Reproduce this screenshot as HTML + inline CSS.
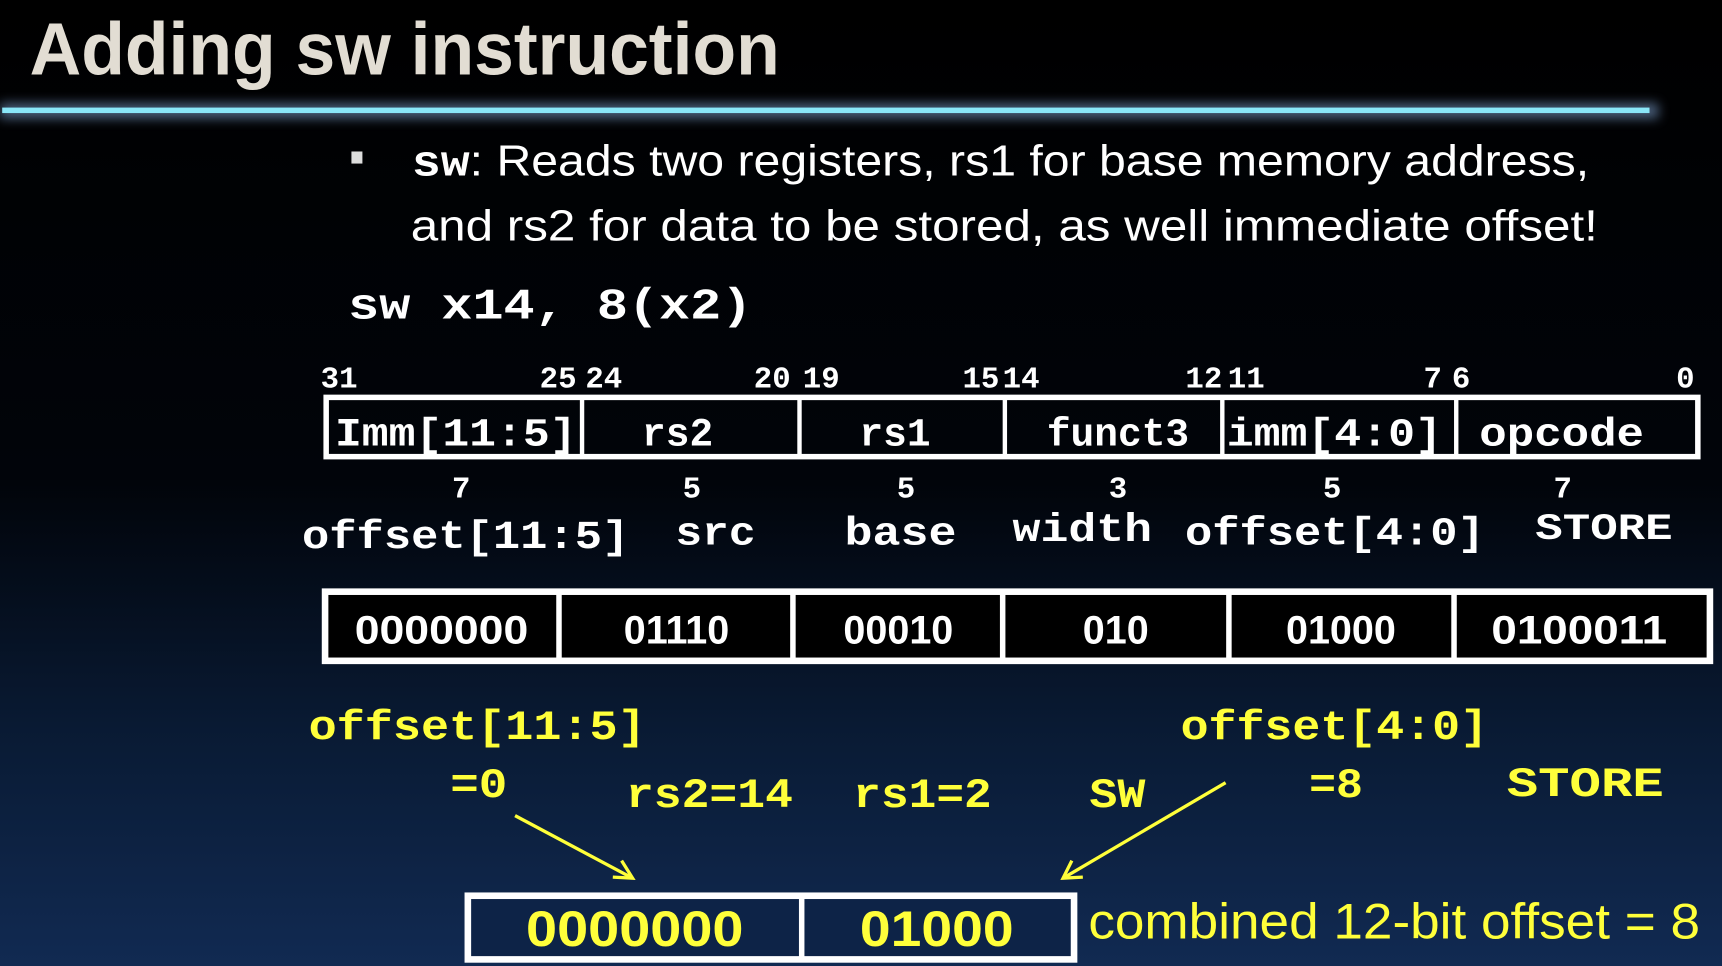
<!DOCTYPE html>
<html><head><meta charset="utf-8"><style>
html,body{margin:0;padding:0;background:#000;}
svg{display:block;}
.m{font-family:"Liberation Mono",monospace;font-weight:bold;}
.s{font-family:"Liberation Sans",sans-serif;}
</style></head><body>
<svg width="1722" height="966" viewBox="0 0 1568 880" preserveAspectRatio="none" xmlns="http://www.w3.org/2000/svg">
<defs>
<linearGradient id="bg" x1="0" y1="0" x2="0" y2="1">
<stop offset="0" stop-color="#000"/><stop offset="0.5" stop-color="#01040a"/><stop offset="0.75" stop-color="#091a33"/><stop offset="1" stop-color="#112a52"/>
</linearGradient>
<filter id="gl" x="-5%" y="-300%" width="110%" height="700%"><feGaussianBlur stdDeviation="5"/></filter>
</defs>
<rect width="1568" height="880" fill="url(#bg)"/>
<text x="27" y="68" font-family="Liberation Sans, sans-serif" font-weight="bold" font-size="68" fill="#e2ddd3" textLength="683" lengthAdjust="spacingAndGlyphs">Adding sw instruction</text>
<rect x="0" y="94" width="1510" height="14" fill="#6b88b0" opacity="0.7" filter="url(#gl)"/>
<rect x="2" y="98" width="1500" height="5" fill="#8ae6f8"/>
<rect x="320" y="138" width="10" height="11" fill="#ddd"/>
<text x="375" y="160" font-size="40" fill="#fff" class="s" textLength="1072" lengthAdjust="spacingAndGlyphs"><tspan class="m">sw</tspan>: Reads two registers, rs1 for base memory address,</text>
<text x="374" y="219" font-size="40" fill="#fff" class="s" textLength="1081" lengthAdjust="spacingAndGlyphs">and rs2 for data to be stored, as well immediate offset!</text>
<text x="317" y="290" font-size="40" fill="#fff" class="m" textLength="368" lengthAdjust="spacingAndGlyphs">sw x14, 8(x2)</text>
<g class="m" font-size="28" fill="#fff">
<text x="292" y="353">31</text><text x="525" y="353" text-anchor="end">25</text>
<text x="533" y="353">24</text><text x="720" y="353" text-anchor="end">20</text>
<text x="731" y="353">19</text><text x="910" y="353" text-anchor="end">15</text>
<text x="913" y="353">14</text><text x="1113" y="353" text-anchor="end">12</text>
<text x="1118" y="353">11</text><text x="1313" y="353" text-anchor="end">7</text>
<text x="1322" y="353">6</text><text x="1543" y="353" text-anchor="end">0</text>
</g>
<rect x="297" y="362" width="1249" height="54" fill="none" stroke="#fff" stroke-width="5"/>
<g stroke="#fff" stroke-width="4">
<line x1="530" y1="362" x2="530" y2="416"/><line x1="728" y1="362" x2="728" y2="416"/>
<line x1="915" y1="362" x2="915" y2="416"/><line x1="1113" y1="362" x2="1113" y2="416"/>
<line x1="1326" y1="362" x2="1326" y2="416"/>
</g>
<g class="m" font-size="36" fill="#fff">
<text x="305" y="406" textLength="220" lengthAdjust="spacingAndGlyphs">Imm[11:5]</text>
<text x="617" y="406" text-anchor="middle">rs2</text>
<text x="815" y="406" text-anchor="middle">rs1</text>
<text x="1018" y="406" text-anchor="middle">funct3</text>
<text x="1117" y="406" textLength="196" lengthAdjust="spacingAndGlyphs">imm[4:0]</text>
<text x="1347" y="406" textLength="150" lengthAdjust="spacingAndGlyphs">opcode</text>
</g>
<g class="m" font-size="28" fill="#fff" text-anchor="middle">
<text x="420" y="453">7</text><text x="630" y="453">5</text><text x="825" y="453">5</text>
<text x="1018" y="453">3</text><text x="1213" y="453">5</text><text x="1423" y="453">7</text>
</g>
<g class="m" font-size="36" fill="#fff">
<text x="275" y="499" textLength="298" lengthAdjust="spacingAndGlyphs">offset[11:5]</text>
<text x="615" y="496" textLength="73" lengthAdjust="spacingAndGlyphs">src</text>
<text x="769" y="496" textLength="102" lengthAdjust="spacingAndGlyphs">base</text>
<text x="922" y="493" textLength="127" lengthAdjust="spacingAndGlyphs">width</text>
<text x="1079" y="496" textLength="273" lengthAdjust="spacingAndGlyphs">offset[4:0]</text>
<text x="1398" y="491" font-size="34" textLength="125" lengthAdjust="spacingAndGlyphs">STORE</text>
</g>
<rect x="296" y="539" width="1261" height="63" fill="#000" stroke="#fff" stroke-width="6"/>
<g stroke="#fff" stroke-width="5">
<line x1="509" y1="539" x2="509" y2="602"/><line x1="722" y1="539" x2="722" y2="602"/>
<line x1="913" y1="539" x2="913" y2="602"/><line x1="1119" y1="539" x2="1119" y2="602"/>
<line x1="1324" y1="539" x2="1324" y2="602"/>
</g>
<g class="s" font-size="36" font-weight="bold" fill="#fff" text-anchor="middle">
<text x="402" y="586" textLength="158" lengthAdjust="spacingAndGlyphs">0000000</text><text x="616" y="586">01110</text><text x="818" y="586">00010</text>
<text x="1016" y="586">010</text><text x="1221" y="586">01000</text><text x="1438" y="586" textLength="160" lengthAdjust="spacingAndGlyphs">0100011</text>
</g>
<g class="m" font-size="38" fill="#ffff3a">
<text x="281" y="673" textLength="307" lengthAdjust="spacingAndGlyphs">offset[11:5]</text>
<text x="410" y="726" textLength="52" lengthAdjust="spacingAndGlyphs">=0</text>
<text x="570" y="735" textLength="152" lengthAdjust="spacingAndGlyphs">rs2=14</text>
<text x="777" y="735" textLength="126" lengthAdjust="spacingAndGlyphs">rs1=2</text>
<text x="992" y="735" textLength="51" lengthAdjust="spacingAndGlyphs">SW</text>
<text x="1075" y="673" textLength="280" lengthAdjust="spacingAndGlyphs">offset[4:0]</text>
<text x="1192" y="726" textLength="49" lengthAdjust="spacingAndGlyphs">=8</text>
<text x="1372" y="725" textLength="143" lengthAdjust="spacingAndGlyphs">STORE</text>
</g>
<g stroke="#ffff3a" stroke-width="3" fill="none">
<line x1="469" y1="743" x2="576" y2="800"/>
<polyline points="558,799 576,800 566,784"/>
<line x1="1116" y1="713" x2="968" y2="800"/>
<polyline points="976,784 968,800 986,799"/>
</g>
<rect x="426" y="816" width="552" height="58" fill="#0d2347" stroke="#fff" stroke-width="6"/>
<line x1="730" y1="816" x2="730" y2="874" stroke="#fff" stroke-width="5"/>
<g class="s" font-size="46" font-weight="bold" fill="#ffff3a" text-anchor="middle">
<text x="578" y="862" textLength="198" lengthAdjust="spacingAndGlyphs">0000000</text><text x="853" y="862" textLength="140" lengthAdjust="spacingAndGlyphs">01000</text>
</g>
<text x="991" y="855" class="s" font-size="46" fill="#ffff3a" textLength="557" lengthAdjust="spacingAndGlyphs">combined 12-bit offset = 8</text>
</svg>
</body></html>
